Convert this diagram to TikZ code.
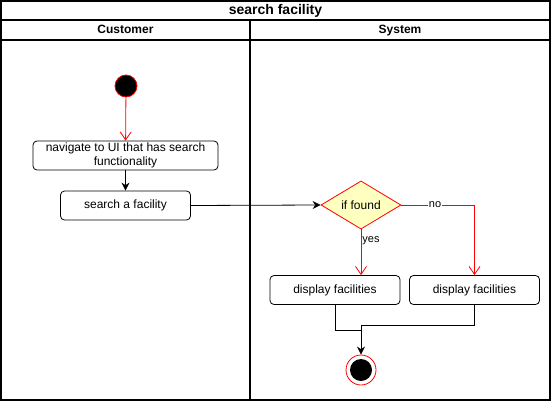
\documentclass[tikz,border=0pt]{standalone}
\usepackage{fontspec}
\setmainfont{Liberation Sans}
\usetikzlibrary{shapes.geometric,arrows.meta}
\definecolor{decisionfill}{HTML}{FFFFC0}

\begin{document}
\begin{tikzpicture}[x=1pt,y=-1pt,
        action/.style={draw, rounded corners=4pt, line width=0.8pt, minimum width=130pt, minimum height=29pt, align=center, inner sep=1pt, font=\fontsize{12}{14}\selectfont},
        decision/.style={diamond, draw=red, fill=decisionfill, line width=0.8pt, minimum width=80pt, minimum height=40pt, inner sep=0pt, font=\fontsize{12}{14}\selectfont},
        laneframe/.style={line width=1.1pt},
        lanehead/.style={font=\bfseries\fontsize{12}{14}\selectfont, anchor=base},
        redflow/.style={draw=red, line width=0.8pt, -{Straight Barb[length=8pt,width=11pt]}},
        blackflow/.style={line width=0.8pt, -{Stealth[length=8pt,width=8pt]}},
        guard/.style={font=\fontsize{11}{13}\selectfont, inner sep=1pt}]
        \useasboundingbox (0,0) rectangle (551,401);

        % Draw the swimlanes
        \draw[laneframe] (1,1) rectangle (550,400);
        \draw[laneframe] (1,20) -- (550,20);
        \draw[laneframe] (1,40) -- (550,40);
        \draw[laneframe] (250,20) -- (250,400);

        % Label the swimlanes
        \node[lanehead, font=\bfseries\fontsize{14}{16}\selectfont] (title) at (275.5,15) {search facility};
        \node[lanehead] (customer) at (125.5,34) {Customer};
        \node[lanehead] (system) at (400,34) {System};

        % Draw the start and end states
        \node[circle, draw=red, fill=black, line width=0.8pt, minimum size=22pt, inner sep=0pt] (start) at (126,86) {};
        \node[circle, draw=red, fill=white, line width=0.8pt, minimum size=30pt, inner sep=0pt] (end) at (361,370) {};
        \node[circle, fill=black, minimum size=22pt, inner sep=0pt] (endcore) at (361,370) {};

        % Draw the actions
        \node[action, minimum width=185pt] (navigate) at (125.5,155.5) {navigate to UI that has search\\functionality};
        \node[action] (search) at (125.5,205.5) {search a facility};
        \node[decision] (found) at (361,205) {if found};
        \node[action] (displayyes) at (335,290) {display facilities};
        \node[action] (displayno) at (474.5,290) {display facilities};

        % Draw the flows
        \draw[redflow] (start) -- (navigate);
        \draw[blackflow] (navigate) -- (search);
        \draw[blackflow] (search.east) -- (found.west);
        \draw[redflow] (found.south) -- (displayyes.north -| found.south) node[guard, pos=0.25, right] {yes};
        \draw[redflow] (found.east) -| (displayno.north) node[guard, pos=0.23, fill=white] {no};

        % Merge the branches
        \coordinate (mergeyes) at (361,330);
        \coordinate (mergeno) at (361,325);
        \draw[line width=0.8pt] (displayyes.south) |- (mergeyes);
        \draw[blackflow] (displayno.south) |- (mergeno) -- (end.north);
    \end{tikzpicture}
\end{document}
